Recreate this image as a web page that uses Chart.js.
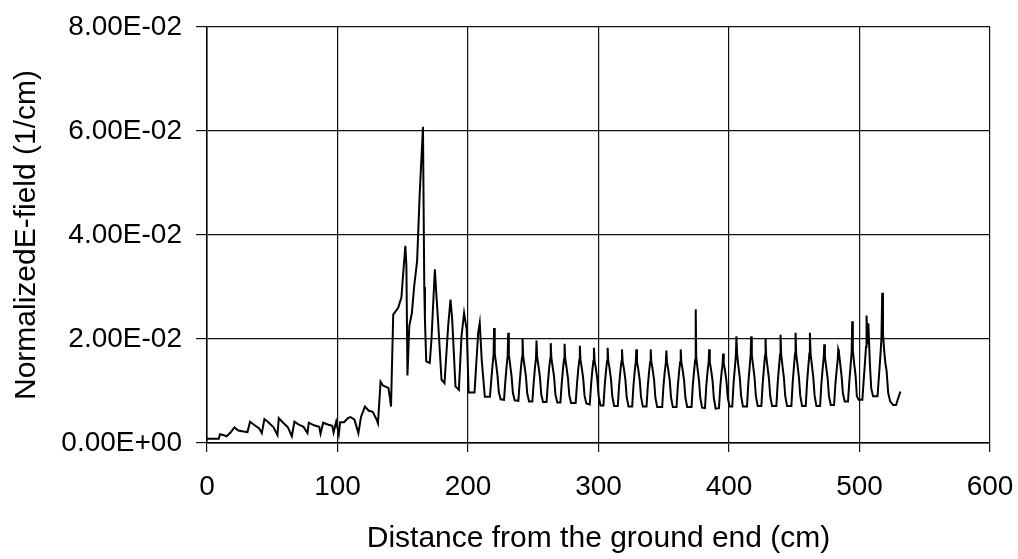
<!DOCTYPE html>
<html>
<head>
<meta charset="utf-8">
<script src="https://cdn.jsdelivr.net/npm/chart.js@4/dist/chart.umd.min.js"></script>
<style>
    body { margin: 0; background: #fff; }
    #wrap { width: 1018px; height: 559px; }
</style>
</head>
<body>
<div id="wrap"><canvas id="fieldChart" width="1018" height="559"></canvas></div>
<script>
// distance along the insulator (cm)
const distanceCm = [
    0, 9, 10, 13, 15, 18, 21, 24, 28, 31,
    33, 36, 40, 42, 44, 47, 51, 54, 55, 58,
    62, 65, 67, 70, 74, 77, 78, 82, 86, 87,
    89, 93, 96, 97, 99, 101, 102, 105, 108, 110,
    113, 116, 118, 121, 124, 127, 130, 131, 133, 135,
    139, 140, 141, 142.7, 146.5, 149, 150, 152, 152.8, 153.6,
    155, 157, 158.7, 161, 163, 165.5, 166, 166.5, 167, 168,
    170.7, 172, 174.6, 175.9, 177, 179.7, 182, 184.8, 186.6, 187.9,
    190.4, 193, 195, 197, 199, 200.5, 205, 207.8, 209, 210.5,
    212.9,
    216.8, 217.8, 218.8, 219.6, 220.0, 220.5, 221.4, 222.6, 223.6, 225.0,
    227.6, 228.6, 229.6, 230.4, 230.8, 231.3, 232.2, 233.4, 234.4, 235.8,
    238.6, 239.6, 240.6, 241.4, 241.8, 242.3, 243.2, 244.4, 245.4, 246.8,
    249.3, 250.3, 251.3, 252.1, 252.5, 253.0, 253.9, 255.1, 256.1, 257.5,
    260.2, 261.2, 262.2, 263.0, 263.4, 263.9, 264.8, 266.0, 267.0, 268.4,
    270.8, 271.8, 272.8, 273.6, 274.0, 274.5, 275.4, 276.6, 277.6, 279.0,
    282.5, 283.5, 284.5, 285.3, 285.7, 286.2, 287.1, 288.3, 289.3, 290.7,
    293.3, 294.3, 295.3, 296.1, 296.5, 297.0, 297.9, 299.1, 300.1, 301.5,
    303.8, 304.8, 305.8, 306.6, 307.0, 307.5, 308.4, 309.6, 310.6, 312.0,
    314.8, 315.8, 316.8, 317.6, 318.0, 318.5, 319.4, 320.6, 321.6, 323.0,
    325.8, 326.8, 327.8, 328.6, 329.0, 329.5, 330.4, 331.6, 332.6, 334.0,
    336.8, 337.8, 338.8, 339.6, 340.0, 340.5, 341.4, 342.6, 343.6, 345.0,
    348.8, 349.8, 350.8, 351.6, 352.0, 352.5, 353.4, 354.6, 355.6, 357.0,
    359.8, 360.8, 361.8, 362.6, 363.0, 363.5, 364.4, 365.6, 366.6, 368.0,
    371.3, 372.3, 373.3, 374.1, 374.5, 374.9, 375.8, 377.0, 378.0, 379.4,
    381.6, 382.6, 383.6, 384.4, 384.8, 385.3, 386.2, 387.4, 388.4, 389.8,
    392.3, 393.3, 394.3, 395.1, 395.5, 396.0, 396.9, 398.1, 399.1, 400.5,
    402.5, 403.5, 404.5, 405.3, 405.7, 406.2, 407.1, 408.3, 409.3, 410.7,
    413.8, 414.8, 415.8, 416.6, 417.0, 417.5, 418.4, 419.6, 420.6, 422.0,
    424.8, 425.8, 426.8, 427.6, 428.0, 428.5, 429.4, 430.6, 431.6, 433.0,
    436.3, 437.3, 438.3, 439.1, 439.5, 440.0, 440.9, 442.1, 443.1, 444.5,
    447.8, 448.8, 449.8, 450.6, 451.0, 451.5, 452.4, 453.6, 454.6, 456.0,
    458.8, 459.8, 460.8, 461.6, 462.0, 462.5, 463.4, 464.6, 465.6, 467.0,
    469.8, 470.8, 471.8, 472.6, 473.0, 473.5, 474.4, 475.6, 476.6, 478.0,
    480.5, 481.5, 482.5, 483.3, 483.7, 484.2, 485.1, 486.3, 487.3, 488.7,
    491.2, 492.2, 493.2, 494.0, 494.4, 494.9, 495.8, 497.0, 498.0, 499.4,
    502.2, 503.2, 504.2, 505.0, 505.4, 506.0, 506.8, 508.0, 509.0, 510.4,
    513.8, 514.8, 515.8, 516.8, 517.4, 518.0, 519.0, 520.0, 520.7, 522.0,
    523.5, 525.8, 528.0, 529.5, 531.4
];

// normalized E-field (1/cm)
const eField = [
    .0008, .0008, .0017, .0015, .0013, .0020, .0030, .0024, .0022, .0021,
    .0041, .0035, .0028, .0019, .0046, .0040, .0030, .0015, .0048, .0040,
    .0030, .0013, .0041, .0036, .0031, .0019, .0039, .0034, .0031, .0018,
    .0039, .0035, .0033, .0020, .0041, .0017, .0040, .0040, .0048, .0050,
    .0045, .0019, .0050, .0070, .0062, .0060, .0045, .0038, .0118, .0110,
    .0106, .0090, .0070, .0247, .0260, .0280, .0315, .0379, .0340, .0130,
    .0225, .0250, .0300, .0350, .0480, .0608, .0450, .0300, .0237, .0157,
    .0154, .0199, .0334, .0280, .0237, .0122, .0115, .0225, .0276, .0237,
    .0109, .0102, .0205, .0250, .0218, .0097, .0097, .0212, .0231, .0160,
    .0089,
    .0089, .0120, .0150, .0170, .0221, .0172, .0155, .0130, .0098, .0084,
    .0083, .0118, .0148, .0168, .0212, .0170, .0152, .0128, .0096, .0082,
    .0081, .0116, .0146, .0165, .0202, .0166, .0150, .0128, .0095, .0080,
    .0080, .0115, .0145, .0163, .0197, .0165, .0150, .0127, .0094, .0079,
    .0079, .0115, .0144, .0162, .0192, .0163, .0148, .0126, .0093, .0078,
    .0078, .0114, .0143, .0161, .0191, .0162, .0147, .0125, .0092, .0077,
    .0077, .0113, .0142, .0160, .0187, .0160, .0146, .0124, .0091, .0076,
    .0074, .0112, .0140, .0158, .0183, .0158, .0145, .0123, .0090, .0072,
    .0072, .0112, .0140, .0158, .0183, .0158, .0145, .0122, .0089, .0071,
    .0071, .0111, .0139, .0157, .0180, .0157, .0144, .0122, .0088, .0070,
    .0070, .0111, .0139, .0157, .0180, .0156, .0143, .0121, .0088, .0070,
    .0070, .0110, .0138, .0156, .0180, .0156, .0143, .0121, .0087, .0069,
    .0069, .0110, .0138, .0155, .0178, .0155, .0142, .0120, .0087, .0069,
    .0069, .0110, .0138, .0156, .0180, .0156, .0142, .0120, .0087, .0069,
    .0069, .0112, .0140, .0160, .0257, .0165, .0145, .0121, .0087, .0068,
    .0067, .0110, .0138, .0156, .0180, .0155, .0142, .0120, .0086, .0066,
    .0067, .0108, .0135, .0152, .0172, .0152, .0140, .0118, .0086, .0070,
    .0070, .0115, .0145, .0170, .0205, .0172, .0150, .0125, .0090, .0070,
    .0070, .0115, .0146, .0170, .0205, .0170, .0150, .0125, .0090, .0071,
    .0071, .0114, .0145, .0168, .0202, .0168, .0149, .0124, .0090, .0071,
    .0071, .0115, .0146, .0170, .0208, .0170, .0150, .0125, .0090, .0071,
    .0071, .0116, .0148, .0172, .0212, .0172, .0152, .0126, .0091, .0071,
    .0071, .0116, .0148, .0172, .0212, .0172, .0152, .0126, .0091, .0071,
    .0071, .0114, .0144, .0165, .0190, .0165, .0148, .0124, .0090, .0073,
    .0073, .0112, .0140, .0160, .0180, .0175, .0155, .0128, .0095, .0080,
    .0080, .0118, .0150, .0175, .0234, .0178, .0155, .0130, .0090, .0083,
    .0083, .0120, .0155, .0185, .0245, .0190, .0230, .0150, .0105, .0090,
    .0090, .0125, .0160, .0200, .0289, .0210, .0175, .0150, .0140, .0096,
    .0080, .0073, .0073, .0085, .0099
];

// axis ticks
const xTicks = [0, 100, 200, 300, 400, 500, 600];
const yTicks = [0, 0.02, 0.04, 0.06, 0.08];

const fontFamily = '"Liberation Sans", Arial, Helvetica, sans-serif';

// 6.00E-02 style labels like the spreadsheet
function sciLabel(v) {
    const parts = Number(v).toExponential(2).split('e');
    const exp = parseInt(parts[1], 10);
    return parts[0] + 'E' + (exp < 0 ? '-' : '+') + String(Math.abs(exp)).padStart(2, '0');
}

const points = distanceCm.map((x, i) => ({ x: x, y: eField[i] }));

const ctx = document.getElementById('fieldChart').getContext('2d');
const fieldChart = new Chart(ctx, {
    type: 'line',
    data: {
        datasets: [{
            label: 'Normalized E-field',
            data: points,
            borderColor: '#000',
            borderWidth: 2,
            pointRadius: 0,
            fill: false,
            tension: 0
        }]
    },
    options: {
        responsive: false,
        animation: false,
        layout: {
            padding: { top: 27, right: 28, left: 0, bottom: 0 }
        },
        plugins: {
            legend: { display: false },
            tooltip: { enabled: false }
        },
        scales: {
            x: {
                type: 'linear',
                min: xTicks[0],
                max: xTicks[xTicks.length - 1],
                afterFit: scale => {
                    scale.height = 116;
                    // keep the plot box where the layout padding puts it
                    scale.paddingLeft = 0;
                    scale.paddingRight = 0;
                },
                afterBuildTicks: scale => { scale.ticks = xTicks.map(v => ({ value: v })); },
                ticks: {
                    color: '#000',
                    font: { family: fontFamily, size: 28 },
                    padding: 18,
                    maxRotation: 0
                },
                grid: {
                    color: '#111',
                    lineWidth: 1.2,
                    tickLength: 9
                },
                border: { color: '#000', width: 1.5 },
                title: {
                    display: true,
                    text: 'Distance from the ground end (cm)',
                    color: '#000',
                    font: { family: fontFamily, size: 30 },
                    padding: { top: 0, bottom: 2 }
                }
            },
            y: {
                min: yTicks[0],
                max: yTicks[yTicks.length - 1],
                afterFit: scale => {
                    scale.width = 207;
                    scale.paddingTop = 0;
                    scale.paddingBottom = 0;
                },
                afterBuildTicks: scale => { scale.ticks = yTicks.map(v => ({ value: v })); },
                ticks: {
                    color: '#000',
                    font: { family: fontFamily, size: 28 },
                    padding: 14,
                    callback: value => sciLabel(value)
                },
                grid: {
                    color: '#111',
                    lineWidth: 1.2,
                    tickLength: 11
                },
                border: { color: '#000', width: 1.5 },
                title: {
                    display: true,
                    text: 'NormalizedE-field (1/cm)',
                    color: '#000',
                    font: { family: fontFamily, size: 30 },
                    padding: { top: 9, bottom: 0 }
                }
            }
        }
    }
});
</script>
</body>
</html>
